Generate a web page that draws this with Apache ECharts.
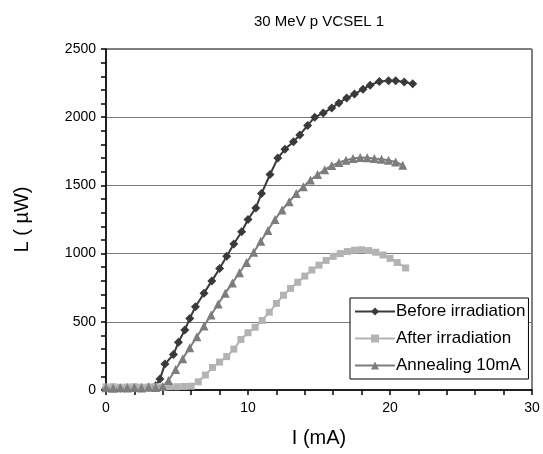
<!DOCTYPE html>
<html>
<head>
<meta charset="utf-8">
<script src="https://cdn.jsdelivr.net/npm/echarts@6/dist/echarts.min.js"></script>
<style>
  html, body { margin: 0; padding: 0; background: #fff; }
  #container { width: 543px; height: 454px; }
</style>
</head>
<body>
<div id="container"></div>
<script>
// 数据 (I mA, L µW)
var seriesNames = ['Before irradiation', 'After irradiation', 'Annealing 10mA'];
var xTicks = [0, 10, 20, 30];
var yTicks = [0, 500, 1000, 1500, 2000, 2500];

var beforeData = [
    [0, 12], [0.5, 14], [1, 12], [1.5, 16], [2, 14], [2.5, 16], [3, 20], [3.5, 32],
    [3.8, 80], [4.15, 190], [4.75, 260], [5.1, 350], [5.55, 440], [5.9, 525],
    [6.3, 610], [6.9, 710], [7.45, 800], [8.0, 890], [8.5, 980], [9.0, 1070],
    [9.55, 1160], [10.0, 1250], [10.55, 1335], [10.95, 1440], [11.55, 1580],
    [12.1, 1700], [12.6, 1765], [13.2, 1820], [13.65, 1870], [14.2, 1940],
    [14.7, 2000], [15.3, 2030], [15.9, 2068], [16.4, 2105], [16.95, 2140],
    [17.5, 2170], [18.1, 2205], [18.6, 2235], [19.25, 2262], [19.9, 2268],
    [20.4, 2268], [21.0, 2258], [21.6, 2245]
];
var afterData = [
    [0, 22], [0.5, 24], [1, 20], [1.5, 22], [2, 24], [2.5, 20], [3, 22], [3.5, 24],
    [4, 22], [4.5, 24], [5, 24], [5.5, 26], [6, 28], [6.5, 60], [7, 110],
    [7.5, 165], [8, 205], [8.5, 245], [9, 300], [9.5, 370], [10, 420], [10.5, 460],
    [11, 510], [11.5, 570], [12, 635], [12.5, 695], [13, 745], [13.5, 790],
    [14, 835], [14.5, 880], [15, 915], [15.5, 950], [16, 980], [16.5, 1000],
    [17, 1015], [17.5, 1025], [18, 1028], [18.5, 1022], [19, 1010], [19.5, 990],
    [20, 965], [20.5, 935], [21.1, 895]
];
var annealData = [
    [0, 16], [0.5, 12], [1, 16], [1.5, 14], [2, 18], [2.5, 15], [3, 20], [3.5, 18],
    [4, 25], [4.4, 70], [4.9, 150], [5.4, 230], [5.9, 310], [6.4, 390], [6.9, 470],
    [7.4, 550], [7.9, 630], [8.4, 710], [8.9, 785], [9.4, 860], [9.9, 935],
    [10.4, 1010], [10.9, 1090], [11.4, 1170], [11.9, 1250], [12.4, 1320],
    [12.9, 1380], [13.4, 1440], [13.9, 1490], [14.4, 1540], [14.9, 1580],
    [15.4, 1615], [15.9, 1645], [16.4, 1668], [16.9, 1685], [17.4, 1698],
    [17.9, 1705], [18.4, 1703], [18.9, 1698], [19.4, 1692], [19.9, 1684],
    [20.4, 1672], [20.9, 1648]
];

var myChart = echarts.init(document.getElementById('container'));
var font = 'Liberation Sans, Arial, sans-serif';

function makeSeries(name, data, color, symbol, size) {
    return {
        name: name,
        type: 'line',
        data: data,
        clip: false,
        symbol: symbol,
        symbolSize: size,
        showAllSymbol: true,
        lineStyle: { color: color, width: 2 },
        itemStyle: { color: color },
        emphasis: { disabled: true },
        animation: false
    };
}

var option = {
    backgroundColor: '#fff',
    animation: false,
    graphic: [{
        type: 'text',
        style: {
            text: '30 MeV p VCSEL 1',
            x: 319, y: 22,
            textAlign: 'center', textVerticalAlign: 'middle',
            font: '15px ' + font, fill: '#000'
        }
    }],
    grid: {
        left: 106, right: 11, top: 49, bottom: 64,
        show: true, borderColor: '#000', borderWidth: 1, backgroundColor: '#fff'
    },
    legend: {
        orient: 'vertical',
        left: 350, top: 298,
        padding: [5, 3, 5, 4],
        itemGap: 10,
        itemWidth: 40, itemHeight: 10,
        borderColor: '#000', borderWidth: 1,
        backgroundColor: '#fff',
        textStyle: { fontFamily: font, fontSize: 17, color: '#000', padding: [0, 0, 0, -4] },
        data: seriesNames
    },
    xAxis: {
        type: 'value',
        min: xTicks[0], max: xTicks[xTicks.length - 1], interval: 10,
        name: 'I (mA)', nameLocation: 'middle', nameGap: 38,
        nameTextStyle: { fontFamily: font, fontSize: 20, color: '#000' },
        axisLine: { lineStyle: { color: '#000', width: 1.5 } },
        axisTick: { show: true, length: 5, lineStyle: { color: '#000', width: 1.5 } },
        minorTick: { show: true, splitNumber: 5, length: 5, lineStyle: { color: '#000', width: 1.5 } },
        axisLabel: { fontFamily: font, fontSize: 14, color: '#000', margin: 11 },
        splitLine: { show: false }
    },
    yAxis: {
        type: 'value',
        min: yTicks[0], max: yTicks[yTicks.length - 1], interval: 500,
        name: 'L ( \u00b5W)', nameLocation: 'middle', nameGap: 74,
        nameTextStyle: { fontFamily: font, fontSize: 20, color: '#000' },
        axisLine: { lineStyle: { color: '#000', width: 1.5 } },
        axisTick: { show: true, length: 5, lineStyle: { color: '#000', width: 1.5 } },
        minorTick: { show: true, splitNumber: 5, length: 5, lineStyle: { color: '#000', width: 1.5 } },
        axisLabel: {
            fontFamily: font, fontSize: 14, color: '#000', margin: 10,
            formatter: function (v) { return String(v); }
        },
        splitLine: { show: true, lineStyle: { color: '#7a7a7a', width: 1.2 } }
    },
    series: [
        makeSeries(seriesNames[0], beforeData, '#3a3a3a', 'diamond', 9),
        makeSeries(seriesNames[1], afterData, '#b3b3b3', 'rect', 7),
        makeSeries(seriesNames[2], annealData, '#7d7d7d', 'triangle', 9)
    ]
};
myChart.setOption(option);
</script>
</body>
</html>
